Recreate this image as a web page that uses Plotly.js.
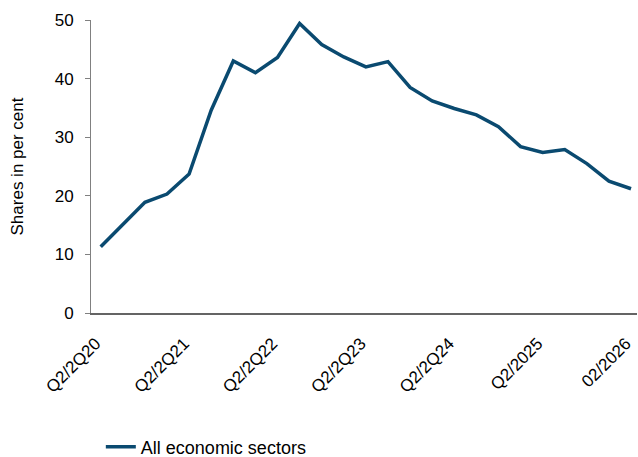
<!DOCTYPE html>
<html>
<head>
<meta charset="utf-8">
<script src="https://cdn.plot.ly/plotly-3.0.1.min.js"></script>
<style>html,body{margin:0;padding:0;background:#fff;}#chart{width:638px;height:457px;}</style>
</head>
<body>
<div id="chart"></div>
<script>
const quarters = ["Q2/2020","Q3/2020","Q4/2020","Q1/2021","Q2/2021","Q3/2021","Q4/2021","Q1/2022",
  "Q2/2022","Q3/2022","Q4/2022","Q1/2023","Q2/2023","Q3/2023","Q4/2023","Q1/2024",
  "Q2/2024","Q3/2024","Q4/2024","Q1/2025","Q2/2025","Q3/2025","Q4/2025","Q1/2026","Q2/2026"];
const shares = [11.3,15.1,18.9,20.3,23.7,34.6,43.0,41.0,43.6,49.4,45.8,43.7,42.0,42.9,38.5,36.2,
  34.9,33.8,31.8,28.4,27.4,27.9,25.5,22.5,21.2];
const tickCats = ["Q2/2020","Q2/2021","Q2/2022","Q2/2023","Q2/2024","Q2/2025","Q2/2026"];
const tickLabels = ["Q2/2Q20","Q2/2Q21","Q2/2Q22","Q2/2Q23","Q2/2Q24","Q2/2025","02/2026"];
const seriesName = "All economic sectors";

const font = "Arial, 'Liberation Sans', sans-serif";
Plotly.newPlot("chart", [{
  x: quarters, y: shares, type: "scatter", mode: "lines", name: seriesName,
  line: {color: "#0a4a70", width: 3.5}
}], {
  width: 638, height: 457,
  margin: {l: 91, r: 1, t: 20, b: 144},
  paper_bgcolor: "#fff", plot_bgcolor: "#fff",
  font: {family: font, size: 17, color: "#000"},
  showlegend: true,
  legend: {orientation: "h", xref: "paper", x: 0.018, xanchor: "left",
           yref: "container", y: 0.022, yanchor: "middle",
           font: {family: font, size: 18, color: "#000"}},
  xaxis: {type: "category", categoryorder: "array", categoryarray: quarters,
          range: [-0.44, 24.27], tickmode: "array", tickvals: tickCats, ticktext: tickLabels,
          tickangle: -45, ticks: "", showgrid: false, zeroline: false,
          showline: true, linecolor: "#646464", linewidth: 2,
          ticklabelstandoff: 12, ticklabelshift: -5,
          automargin: false,
          tickfont: {family: font, size: 17, color: "#000"}},
  yaxis: {range: [0, 50], tickvals: [0,10,20,30,40,50], ticks: "outside", ticklen: 5,
          tickcolor: "#808080", showgrid: false, zeroline: false, showline: true,
          linecolor: "#808080", linewidth: 1, ticklabelstandoff: 8, automargin: false,
          tickfont: {family: font, size: 17, color: "#000"},
          title: {text: "Shares in per cent", standoff: 26, font: {family: font, size: 17, color: "#000"}}}
}, {displayModeBar: false, staticPlot: true});
</script>
</body>
</html>
